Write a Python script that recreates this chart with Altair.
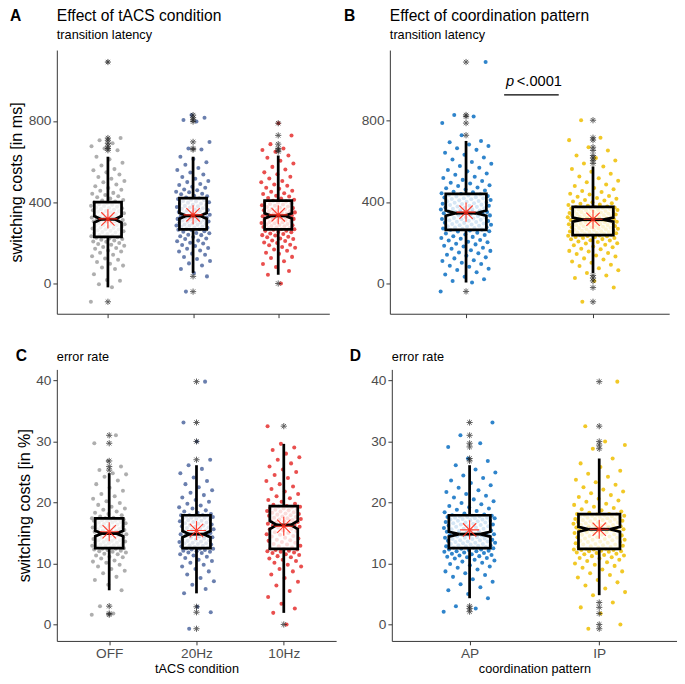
import altair as alt
import numpy as np
import pandas as pd

FONT = "Liberation Sans"

# ---------------- data: transition latency (ms) ----------------
tacs_cats = ["OFF", "20Hz", "10Hz"]
tacs_colors = ["#a0a0a0", "#5069a0", "#e5302f"]
pattern_cats = ["AP", "IP"]
pattern_colors = ["#0a6fc2", "#efbe00"]

panel_letters = ["A", "B", "C", "D"]
panel_titles = ["Effect of tACS condition", "Effect of coordination pattern", "", ""]
panel_subtitles = ["transition latency", "transition latency", "error rate", "error rate"]

off_ms = [-90, -19, -4, 14, 17, 46, 71, 79, 88, 97, 106, 117, 123, 134, 141, 151, 158, 162, 171, 175, 180, 186, 191, 194, 199, 205, 207, 212, 215, 219, 222, 225, 228,
          231, 232, 236, 239, 242, 244, 248, 251, 253, 257, 259, 262, 266, 267, 271, 273, 276, 279, 281, 284, 287, 288, 292, 294, 297, 300, 303, 305, 307, 311, 313, 315, 317, 320, 322, 325, 328, 330, 333, 336, 337, 341, 344, 346, 350, 353, 355, 357, 361, 363, 366, 370, 372, 374, 378, 381, 383, 387, 390, 393, 395, 399,
          403, 408, 411, 418, 424, 429, 436, 442, 446, 456, 461, 470, 479, 487, 498, 504, 516, 524, 537, 547, 557, 563, 581, 594, 611, 624, 656, 665, 676, 690, 705, 716, 1090]
hz20_ms = [-40, 35, 52, 71, 89, 99, 111, 121, 130, 141, 147, 157, 162, 171, 175, 184, 189, 197, 200, 208, 211, 219, 222, 229, 232, 238, 240, 247, 249, 255, 257, 263, 265,
           268, 270, 274, 275, 279, 280, 284, 285, 289, 290, 294, 295, 299, 300, 304, 305, 308, 310, 313, 315, 318, 320, 323, 325, 328, 330, 333, 334, 338, 340, 344, 346, 350, 352, 356, 358, 362, 364, 368, 370, 374, 376, 380, 382, 386, 388, 392, 394, 398, 400, 404, 406, 410, 412, 416, 418,
           423, 429, 432, 439, 442, 449, 452, 459, 463, 471, 476, 485, 490, 499, 505, 516, 524, 537, 546, 559, 569, 585, 597, 613, 624, 659, 665, 697, 797, 805, 816, 829]
hz10_ms = [0, 43, 61, 81, 96, 109, 126, 131, 146, 151, 161, 167, 176, 180, 188, 191, 199, 202, 209, 212, 219, 221, 228, 230, 236, 238, 244, 246, 252, 253, 259, 260, 264,
           267, 268, 272, 273, 277, 278, 282, 283, 287, 288, 292, 293, 297, 298, 302, 303, 307, 308, 312, 313, 317, 318, 322, 323, 327, 328, 331, 333, 335, 336, 340, 341, 345, 346, 350, 351, 355, 356, 360, 361, 365, 367, 371, 373, 377, 379, 383, 385, 389, 391, 395, 397, 401, 403, 407,
           412, 418, 421, 428, 432, 440, 444, 452, 457, 466, 471, 481, 487, 498, 505, 517, 525, 538, 547, 561, 574, 591, 604, 619, 630, 649, 657, 665, 686, 729, 789]
ap_ms = [-41, 3, 11, 19, 32, 43, 54, 65, 71, 81, 86, 94, 100, 109, 113, 122, 127, 135, 140, 147, 151, 159, 162, 170, 174, 181, 184, 191, 194, 201, 204, 210, 213, 219, 222, 228, 231, 237, 240, 245, 248, 254, 256, 260,
         263, 265, 268, 269, 272, 274, 276, 279, 280, 283, 285, 288, 289, 292, 294, 297, 298, 301, 303, 306, 307, 310, 312, 315, 316, 319, 321, 324, 325, 328, 330, 333, 334, 337, 339, 342, 343, 345, 346, 349, 351, 354, 355, 358, 360, 363, 364, 367, 369, 372, 373, 376, 378, 381, 382, 385, 387, 390, 391, 394, 396, 399, 401, 404, 405, 408, 410, 413, 415, 418, 419, 422, 424, 427, 429, 432, 434, 437, 439,
         443, 448, 451, 457, 461, 468, 471, 479, 483, 491, 495, 504, 509, 518, 524, 534, 540, 551, 558, 569, 577, 589, 597, 610, 619, 633, 643, 657, 665, 676, 683, 694, 701, 729, 789, 821, 829, 1090]
ip_ms = [-92, -22, 11, 25, 38, 50, 63, 73, 84, 91, 101, 107, 117, 122, 131, 136, 144, 148, 156, 159, 167, 170, 177, 180, 187, 189, 195, 197, 203, 205, 210, 211, 216, 217, 222, 223, 227, 228, 231, 232, 234, 235, 236,
         238, 240, 241, 243, 245, 246, 248, 250, 252, 253, 255, 256, 258, 260, 262, 263, 265, 266, 268, 270, 272, 273, 275, 276, 278, 280, 282, 283, 285, 286, 288, 290, 291, 293, 295, 296, 298, 300, 301, 303, 305, 306, 308, 310, 311, 313, 315, 316, 318, 320, 321, 323, 325, 326, 328, 330, 331, 333, 335, 336, 338, 340, 341, 343, 345, 346, 348, 350, 351, 353, 355, 356, 358, 360, 361, 363, 365, 366, 368, 370, 371, 373, 374, 375,
         378, 381, 385, 387, 391, 394, 399, 402, 407, 410, 416, 420, 426, 430, 437, 441, 449, 454, 463, 469, 479, 486, 497, 505, 517, 526, 539, 549, 563, 575, 590, 605, 617, 629, 654, 670, 705, 717, 803]

# box statistics: q1, median, q3, whisker ends, mean, notch
tacs_ms_q1 = [229, 266, 266]
tacs_ms_med = [316, 333, 333]
tacs_ms_q3 = [400, 420, 408]
tacs_ms_wlo = [-19, 52, 43]
tacs_ms_whi = [624, 624, 630]
tacs_ms_mean = [318, 338, 338]
tacs_ms_nlo = [300, 319, 320]
tacs_ms_nhi = [332, 347, 346]
tacs_ms_out_cat = [1, 1, 1, 1, 1, 1, 1, 1, 2, 2, 2, 2, 2, 2, 2, 2, 2, 3, 3, 3, 3, 3, 3, 3]
tacs_ms_out_val = [1090, 716, 705, 690, 676, 665, 656, -90, 829, 816, 805, 797, 697, 665, 659, 35, -40, 789, 729, 686, 665, 657, 649, 0]

pat_ms_q1 = [262, 237]
pat_ms_med = [345, 313]
pat_ms_q3 = [440, 376]
pat_ms_wlo = [3, 50]
pat_ms_whi = [701, 575]
pat_ms_mean = [350, 315]
pat_ms_nlo = [332, 303]
pat_ms_nhi = [358, 323]
pat_ms_out_cat = [1, 1, 1, 1, 1, 1, 2, 2, 2, 2, 2, 2, 2, 2, 2, 2, 2, 2, 2, 2]
pat_ms_out_val = [1090, 829, 821, 789, 729, -41, 803, 717, 705, 670, 654, 629, 617, 605, 590, 38, 25, 11, -22, -92]

# ---------------- data: error rate (%) ----------------
off_pct = [1.6, 1.8, 3.0, 5.6, 6.5, 7.3, 7.8, 8.4, 8.8, 9.1, 9.5, 9.8, 10.1, 10.3, 10.5, 10.8, 11.0, 11.1, 11.3, 11.5, 11.6, 11.8, 11.9, 12.0, 12.1, 12.2, 12.3, 12.4, 12.4, 12.5,
           12.6, 12.7, 12.8, 12.9, 12.9, 13.0, 13.1, 13.2, 13.3, 13.4, 13.4, 13.5, 13.6, 13.7, 13.8, 13.8, 13.9, 14.0, 14.1, 14.2, 14.3, 14.4, 14.5, 14.6, 14.7, 14.8, 14.9, 14.9, 15.0, 15.1, 15.2, 15.3, 15.4, 15.5, 15.5, 15.6, 15.7, 15.8, 15.9, 16.0, 16.1, 16.1, 16.2, 16.3, 16.4, 16.5, 16.6, 16.7, 16.7, 16.8, 16.9, 17.0, 17.0, 17.1, 17.2, 17.2, 17.3, 17.3, 17.4, 17.4,
           17.5, 17.7, 17.9, 18.1, 18.3, 18.5, 18.8, 19.0, 19.3, 19.6, 19.9, 20.2, 20.6, 21.0, 21.4, 21.9, 22.4, 23.0, 23.6, 24.2, 24.6, 24.8, 25.3, 25.9, 26.8, 29.7, 31.0]
hz20_pct = [-0.7, 2.0, 2.9, 5.1, 5.8, 6.5, 7.1, 7.6, 8.2, 8.7, 9.1, 9.5, 9.8, 10.1, 10.4, 10.6, 10.9, 11.1, 11.3, 11.5, 11.7, 11.8, 11.9, 12.0, 12.1, 12.2, 12.3, 12.4, 12.4, 12.5,
            12.6, 12.7, 12.8, 12.9, 13.0, 13.1, 13.2, 13.3, 13.3, 13.4, 13.5, 13.6, 13.7, 13.8, 13.9, 14.0, 14.1, 14.2, 14.3, 14.4, 14.5, 14.6, 14.7, 14.8, 14.8, 14.9, 15.0, 15.1, 15.3, 15.4, 15.5, 15.6, 15.7, 15.8, 15.9, 16.0, 16.1, 16.2, 16.3, 16.4, 16.5, 16.6, 16.7, 16.8, 16.9, 17.0, 17.1, 17.2, 17.3, 17.4, 17.5, 17.5, 17.6, 17.7, 17.7, 17.8, 17.8, 17.9, 17.9, 17.9,
            18.1, 18.3, 18.5, 18.7, 19.0, 19.2, 19.5, 19.8, 20.1, 20.4, 20.8, 21.2, 21.6, 22.0, 22.5, 23.0, 23.5, 24.1, 24.8, 25.5, 26.1, 27.0, 30.0, 33.1, 39.8]
hz10_pct = [0.0, 1.9, 2.6, 3.4, 4.5, 5.5, 6.4, 7.0, 7.6, 8.2, 8.7, 9.1, 9.5, 9.8, 10.1, 10.4, 10.6, 10.8, 11.0, 11.2, 11.4, 11.5, 11.7, 11.8, 11.9, 12.0, 12.1, 12.2, 12.3, 12.4,
            12.5, 12.6, 12.8, 12.9, 13.1, 13.2, 13.4, 13.5, 13.7, 13.8, 13.9, 14.1, 14.2, 14.4, 14.5, 14.7, 14.8, 15.0, 15.1, 15.3, 15.4, 15.6, 15.7, 15.9, 16.0, 16.1, 16.2, 16.3, 16.4, 16.5, 16.6, 16.7, 16.8, 16.9, 17.0, 17.1, 17.2, 17.3, 17.4, 17.5, 17.6, 17.7, 17.8, 17.9, 18.0, 18.1, 18.2, 18.3, 18.4, 18.5, 18.6, 18.7, 18.8, 18.9, 19.0, 19.1, 19.2, 19.3, 19.3, 19.4,
            19.6, 19.8, 20.1, 20.4, 20.7, 21.0, 21.4, 21.8, 22.2, 22.6, 23.0, 23.5, 24.0, 24.5, 25.0, 25.4, 25.9, 26.4, 27.0, 27.4, 28.0, 28.6, 29.0, 29.6, 32.5]
ap_pct = [2.1, 2.6, 3.0, 4.3, 5.0, 5.6, 6.1, 6.6, 7.0, 7.4, 7.8, 8.1, 8.4, 8.7, 9.0, 9.3, 9.5, 9.7, 9.9, 10.1, 10.3, 10.5, 10.6, 10.8, 10.9, 11.0, 11.1, 11.2, 11.3, 11.4, 11.5, 11.6, 11.7, 11.8, 11.9, 12.0, 12.0, 12.1, 12.2, 12.3, 12.3, 12.4, 12.5,
          12.6, 12.6, 12.7, 12.8, 12.8, 12.9, 13.0, 13.0, 13.1, 13.2, 13.2, 13.3, 13.4, 13.4, 13.5, 13.6, 13.6, 13.7, 13.8, 13.8, 13.9, 14.0, 14.0, 14.1, 14.2, 14.2, 14.3, 14.4, 14.4, 14.5, 14.6, 14.6, 14.7, 14.8, 14.8, 14.9, 15.0, 15.1, 15.2, 15.3, 15.3, 15.4, 15.5, 15.6, 15.7, 15.7, 15.8, 15.9, 16.0, 16.1, 16.1, 16.2, 16.3, 16.4, 16.4, 16.5, 16.6, 16.7, 16.7, 16.8, 16.9, 17.0, 17.0, 17.1, 17.2, 17.2, 17.3, 17.4, 17.4, 17.5, 17.5, 17.6, 17.6, 17.7, 17.7, 17.8, 17.8, 17.9,
          18.0, 18.2, 18.4, 18.6, 18.8, 19.0, 19.2, 19.4, 19.7, 19.9, 20.2, 20.5, 20.8, 21.1, 21.4, 21.7, 22.0, 22.4, 22.8, 23.2, 23.6, 24.0, 24.4, 24.9, 25.4, 26.1, 26.8, 27.2, 29.1, 29.7, 31.0, 33.1]
ip_pct = [-0.7, 0.0, 1.8, 2.8, 3.6, 4.8, 5.3, 5.9, 6.4, 6.9, 7.3, 7.7, 8.1, 8.4, 8.7, 9.0, 9.3, 9.6, 9.8, 10.0, 10.2, 10.4, 10.6, 10.8, 10.9, 11.0, 11.2, 11.3, 11.4, 11.5, 11.6, 11.7, 11.8, 11.9, 12.0, 12.0, 12.1, 12.2, 12.2, 12.3, 12.3, 12.4, 12.4,
          12.5, 12.6, 12.7, 12.7, 12.8, 12.9, 13.0, 13.1, 13.1, 13.2, 13.3, 13.4, 13.5, 13.5, 13.6, 13.7, 13.8, 13.9, 13.9, 14.0, 14.1, 14.2, 14.3, 14.3, 14.4, 14.5, 14.6, 14.7, 14.7, 14.8, 14.9, 15.0, 15.1, 15.1, 15.2, 15.3, 15.4, 15.5, 15.5, 15.6, 15.7, 15.7, 15.8, 15.9, 15.9, 16.0, 16.1, 16.1, 16.2, 16.3, 16.3, 16.4, 16.5, 16.5, 16.6, 16.7, 16.7, 16.8, 16.9, 16.9, 17.0, 17.1, 17.1, 17.2, 17.3, 17.3, 17.4, 17.5, 17.5, 17.6, 17.7, 17.7, 17.8, 17.8, 17.9, 17.9, 18.0, 18.0, 18.1, 18.1,
          18.3, 18.5, 18.7, 18.9, 19.1, 19.3, 19.6, 19.8, 20.1, 20.3, 20.6, 20.9, 21.2, 21.5, 21.8, 22.1, 22.5, 22.9, 23.3, 23.7, 24.2, 24.7, 25.2, 25.8, 26.4, 27.2, 28.8, 29.4, 30.0, 32.5, 39.8]

tacs_pct_q1 = [12.5, 12.5, 12.4]
tacs_pct_med = [14.9, 14.8, 16.3]
tacs_pct_q3 = [17.4, 17.9, 19.4]
tacs_pct_wlo = [5.6, 5.1, 1.9]
tacs_pct_whi = [24.8, 26.1, 29.6]
tacs_pct_mean = [15.2, 15.4, 16.1]
tacs_pct_nlo = [14.45, 14.3, 15.65]
tacs_pct_nhi = [15.35, 15.3, 16.95]
tacs_pct_out_cat = [1, 1, 1, 1, 1, 1, 1, 1, 2, 2, 2, 2, 2, 2, 2, 3, 3]
tacs_pct_out_val = [31.0, 29.7, 26.8, 25.9, 25.3, 3.0, 1.8, 1.6, 39.8, 33.1, 30.0, 27.0, 2.9, 2.0, -0.7, 32.5, 0.0]

pat_pct_q1 = [12.5, 12.4]
pat_pct_med = [14.8, 15.6]
pat_pct_q3 = [17.9, 18.1]
pat_pct_wlo = [4.3, 4.8]
pat_pct_whi = [26.1, 27.2]
pat_pct_mean = [15.5, 15.6]
pat_pct_nlo = [14.4, 15.2]
pat_pct_nhi = [15.2, 16.0]
pat_pct_out_cat = [1, 1, 1, 1, 1, 1, 1, 1, 1, 2, 2, 2, 2, 2, 2, 2, 2, 2, 2]
pat_pct_out_val = [33.1, 31.0, 29.7, 29.1, 27.2, 26.8, 3.0, 2.6, 2.1, 39.8, 32.5, 30.0, 29.4, 28.8, 3.6, 2.8, 1.8, 0.0, -0.7]

# significance annotation in panel B
p_text_x = [1.315, 1.40]
p_text_y = [972, 972]
p_text = ["p", "<.0001"]
p_line_x = [1.30]
p_line_x2 = [1.73]
p_line_y = [928]

ASTER = "M-1,0L1,0M0,-1L0,1M-0.7,-0.7L0.7,0.7M-0.7,0.7L0.7,-0.7"
HW = 0.16  # half box width in category units


def make_panel(idx, cats, colors, groups, q1, med, q3, wlo, whi, mean, nlo, nhi,
               out_cat, out_val, ydomain, yticks, ytitle, width, height,
               show_xlabels, xtitle, letter_dx, letter_dy, title_dy, sub_dy,
               y_extent, y_title_pad, extra=None):
    n = len(cats)
    rows = []
    for i, (c, vals) in enumerate(zip(cats, groups)):
        k = np.arange(len(vals))
        jit = ((k * 0.6180339887 + 0.29 * i) % 1.0 - 0.5) * 0.4
        for v, j in zip(vals, jit):
            rows.append({"col": colors[i], "x": i + 1 + j, "y": v})
    pts = pd.DataFrame(rows)

    expr = " : ".join([f"datum.value == {i+1} ? '{c}'" for i, c in enumerate(cats[:-1])]) + f" : '{cats[-1]}'"
    X = alt.X("x:Q", scale=alt.Scale(domain=[0.4, n + 0.6], nice=False, zero=False),
              axis=alt.Axis(values=list(range(1, n + 1)), labelExpr=expr, grid=False,
                            domainColor="#333333", tickColor="#333333", tickSize=4,
                            labelFontSize=14, labelColor="#4d4d4d", labelPadding=2,
                            titleFontSize=13, titleFontWeight="normal", titleColor="black",
                            titlePadding=2, labels=show_xlabels, title=xtitle))
    Y = alt.Y("y:Q", scale=alt.Scale(domain=ydomain, nice=False, zero=False),
              axis=alt.Axis(values=yticks, grid=False, title=ytitle,
                            domainColor="#333333", tickColor="#333333", tickSize=4,
                            labelFontSize=14, labelColor="#4d4d4d", labelPadding=2,
                            titleFontSize=16.5, titleFontWeight="normal", titleColor="black",
                            minExtent=y_extent, maxExtent=y_extent, titlePadding=y_title_pad))

    points = alt.Chart(pts).mark_circle(size=17, opacity=0.85).encode(
        x=X, y=Y, color=alt.Color("col:N", scale=None))

    wh = []
    for i in range(n):
        wh.append({"x": i + 1, "y": q3[i], "y2": whi[i]})
        wh.append({"x": i + 1, "y": q1[i], "y2": wlo[i]})
    whisk = alt.Chart(pd.DataFrame(wh)).mark_rule(color="black", strokeWidth=2.8).encode(
        x=X, y=Y, y2="y2:Q")

    # translucent fill of the notched box (three slabs)
    fill_rows = []
    for i in range(n):
        c = i + 1
        fill_rows.append({"x": c - HW, "x2": c + HW, "y": q1[i], "y2": nlo[i]})
        fill_rows.append({"x": c - HW * 0.75, "x2": c + HW * 0.75, "y": nlo[i], "y2": nhi[i]})
        fill_rows.append({"x": c - HW, "x2": c + HW, "y": nhi[i], "y2": q3[i]})
    boxfill = alt.Chart(pd.DataFrame(fill_rows)).mark_rect(
        fill="white", fillOpacity=0.8, strokeWidth=0).encode(
        x=X, x2="x2:Q", y=Y, y2="y2:Q")

    # notched outline
    outline = []
    for i in range(n):
        c = i + 1
        path = [(c - HW, q1[i]), (c + HW, q1[i]), (c + HW, nlo[i]), (c + HW / 2, med[i]),
                (c + HW, nhi[i]), (c + HW, q3[i]), (c - HW, q3[i]), (c - HW, nhi[i]),
                (c - HW / 2, med[i]), (c - HW, nlo[i]), (c - HW, q1[i]), (c + HW, q1[i])]
        for o, (xx, yy) in enumerate(path):
            outline.append({"g": cats[i], "o": o, "x": xx, "y": yy})
    boxline = alt.Chart(pd.DataFrame(outline)).mark_line(
        color="black", strokeWidth=2.8, strokeJoin="miter").encode(
        x=X, y=Y, detail="g:N", order="o:Q")

    mdf = pd.DataFrame({"x": [i + 1 - HW / 2 for i in range(n)],
                        "x2": [i + 1 + HW / 2 for i in range(n)], "y": med})
    median = alt.Chart(mdf).mark_rule(color="black", strokeWidth=3).encode(
        x=X, x2="x2:Q", y=Y)

    odf = pd.DataFrame({"x": out_cat, "y": out_val})
    outl = alt.Chart(odf).mark_point(shape=ASTER, size=40, filled=False,
                                     color="#1a1a1a", strokeWidth=1).encode(x=X, y=Y)

    mdf2 = pd.DataFrame({"x": list(range(1, n + 1)), "y": mean})
    means = alt.Chart(mdf2).mark_point(shape=ASTER, size=380, filled=False,
                                       color="#ff2a1a", strokeWidth=1.2, opacity=0.9).encode(x=X, y=Y)

    let = alt.Chart(pd.DataFrame({"t": [panel_letters[idx]]})).mark_text(
        align="left", baseline="alphabetic", fontSize=16, fontWeight="bold",
        font=FONT, color="black").encode(text="t:N", x=alt.value(letter_dx), y=alt.value(letter_dy))
    layers = [points, whisk, boxfill, boxline, median, outl, means, let]
    if panel_titles[idx]:
        tt = alt.Chart(pd.DataFrame({"t": [panel_titles[idx]]})).mark_text(
            align="left", baseline="alphabetic", fontSize=16, font=FONT, color="black").encode(
            text="t:N", x=alt.value(0), y=alt.value(title_dy))
        layers.append(tt)
    st = alt.Chart(pd.DataFrame({"t": [panel_subtitles[idx]]})).mark_text(
        align="left", baseline="alphabetic", fontSize=13, font=FONT, color="black").encode(
        text="t:N", x=alt.value(0), y=alt.value(sub_dy))
    layers.append(st)
    if extra:
        layers += [e(X, Y) for e in extra]
    return alt.layer(*layers).properties(width=width, height=height)


def p_annot_line(X, Y):
    d = pd.DataFrame({"x": p_line_x, "x2": p_line_x2, "y": p_line_y})
    return alt.Chart(d).mark_rule(color="black", strokeWidth=1.1).encode(x=X, x2="x2:Q", y=Y)


def p_annot_p(X, Y):
    d = pd.DataFrame({"x": p_text_x[:1], "y": p_text_y[:1], "t": p_text[:1]})
    return alt.Chart(d).mark_text(align="left", baseline="alphabetic", fontSize=15,
                                  fontStyle="italic", font=FONT, color="black").encode(
        x=X, y=Y, text="t:N")


def p_annot_v(X, Y):
    d = pd.DataFrame({"x": p_text_x[1:], "y": p_text_y[1:], "t": p_text[1:]})
    return alt.Chart(d).mark_text(align="left", baseline="alphabetic", fontSize=15,
                                  font=FONT, color="black").encode(x=X, y=Y, text="t:N")


A = make_panel(0, tacs_cats, tacs_colors, [off_ms, hz20_ms, hz10_ms],
               tacs_ms_q1, tacs_ms_med, tacs_ms_q3, tacs_ms_wlo, tacs_ms_whi, tacs_ms_mean,
               tacs_ms_nlo, tacs_ms_nhi, tacs_ms_out_cat, tacs_ms_out_val,
               [-149, 1149], [0, 400, 800], "switching costs [in ms]", 279, 270,
               False, None, -48, -30, -30, -11, 29, 4)
B = make_panel(1, pattern_cats, pattern_colors, [ap_ms, ip_ms],
               pat_ms_q1, pat_ms_med, pat_ms_q3, pat_ms_wlo, pat_ms_whi, pat_ms_mean,
               pat_ms_nlo, pat_ms_nhi, pat_ms_out_cat, pat_ms_out_val,
               [-151, 1149], [0, 400, 800], None, 286, 270,
               False, None, -47, -30, -30, -11, 29, 4,
               extra=[p_annot_line, p_annot_p, p_annot_v])
C = make_panel(2, tacs_cats, tacs_colors, [off_pct, hz20_pct, hz10_pct],
               tacs_pct_q1, tacs_pct_med, tacs_pct_q3, tacs_pct_wlo, tacs_pct_whi, tacs_pct_mean,
               tacs_pct_nlo, tacs_pct_nhi, tacs_pct_out_cat, tacs_pct_out_val,
               [-2.7, 41.8], [0, 10, 20, 30, 40], "switching costs [in %]", 286, 278,
               True, "tACS condition", -42, -9, -9, -9, 22, 3)
D = make_panel(3, pattern_cats, pattern_colors, [ap_pct, ip_pct],
               pat_pct_q1, pat_pct_med, pat_pct_q3, pat_pct_wlo, pat_pct_whi, pat_pct_mean,
               pat_pct_nlo, pat_pct_nhi, pat_pct_out_cat, pat_pct_out_val,
               [-2.7, 41.8], [0, 10, 20, 30, 40], None, 292, 278,
               True, "coordination pattern", -43, -9, -9, -9, 22, 5)

top = alt.hconcat(A, B, spacing=15)
bottom = alt.hconcat(C, D, spacing=14)
chart = alt.vconcat(top, bottom, spacing=30).properties(
    padding={"left": 1, "top": -8, "right": 0, "bottom": 0}
).configure_view(stroke=None).configure_axis(
    labelFont=FONT, titleFont=FONT
)

chart.save("out.html", embed_options={"renderer": "svg", "actions": False})
